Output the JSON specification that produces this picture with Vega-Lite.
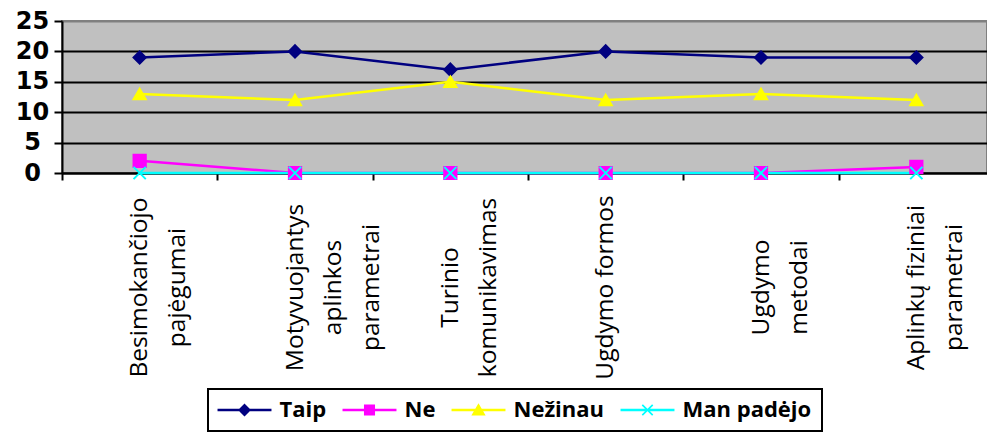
{
  "$schema": "https://vega.github.io/schema/vega-lite/v6.json",
  "width": 925,
  "height": 152,
  "autosize": {"type": "none"},
  "padding": {"left": 62, "top": 21, "right": 0, "bottom": 259},
  "background": "white",
  "data": {
    "values": [
      {"category": "Besimokančiojo\npajėgumai", "series": "Taip", "value": 19},
      {"category": "Motyvuojantys\naplinkos\nparametrai", "series": "Taip", "value": 20},
      {"category": "Turinio\nkomunikavimas", "series": "Taip", "value": 17},
      {"category": "Ugdymo formos", "series": "Taip", "value": 20},
      {"category": "Ugdymo\nmetodai", "series": "Taip", "value": 19},
      {"category": "Aplinkų fiziniai\nparametrai", "series": "Taip", "value": 19},
      {"category": "Besimokančiojo\npajėgumai", "series": "Ne", "value": 2},
      {"category": "Motyvuojantys\naplinkos\nparametrai", "series": "Ne", "value": 0},
      {"category": "Turinio\nkomunikavimas", "series": "Ne", "value": 0},
      {"category": "Ugdymo formos", "series": "Ne", "value": 0},
      {"category": "Ugdymo\nmetodai", "series": "Ne", "value": 0},
      {"category": "Aplinkų fiziniai\nparametrai", "series": "Ne", "value": 1},
      {"category": "Besimokančiojo\npajėgumai", "series": "Nežinau", "value": 13},
      {"category": "Motyvuojantys\naplinkos\nparametrai", "series": "Nežinau", "value": 12},
      {"category": "Turinio\nkomunikavimas", "series": "Nežinau", "value": 15},
      {"category": "Ugdymo formos", "series": "Nežinau", "value": 12},
      {"category": "Ugdymo\nmetodai", "series": "Nežinau", "value": 13},
      {"category": "Aplinkų fiziniai\nparametrai", "series": "Nežinau", "value": 12},
      {"category": "Besimokančiojo\npajėgumai", "series": "Man padėjo", "value": 0},
      {"category": "Motyvuojantys\naplinkos\nparametrai", "series": "Man padėjo", "value": 0},
      {"category": "Turinio\nkomunikavimas", "series": "Man padėjo", "value": 0},
      {"category": "Ugdymo formos", "series": "Man padėjo", "value": 0},
      {"category": "Ugdymo\nmetodai", "series": "Man padėjo", "value": 0},
      {"category": "Aplinkų fiziniai\nparametrai", "series": "Man padėjo", "value": 0}
    ]
  },
  "encoding": {
    "x": {
      "field": "category",
      "type": "nominal",
      "sort": null,
      "scale": {"range": [0, 932], "paddingInner": 0, "paddingOuter": 0},
      "axis": {
        "title": null,
        "grid": false,
        "domainColor": "black",
        "domainWidth": 2,
        "tickColor": "black",
        "tickWidth": 2,
        "tickSize": 7,
        "tickBand": "extent",
        "labelAngle": -90,
        "labelAlign": "center",
        "labelBaseline": "middle",
        "labelPadding": 107,
        "labelFont": "Open Sans",
        "labelFontSize": 24.5,
        "labelColor": "black",
        "labelLineHeight": 38,
        "labelLimit": 0,
        "labelOverlap": false,
        "labelExpr": "split(replace(datum.label, regexp('^', 'gm'), indexof(datum.label, 'metodai') >= 0 ? '\u00a0\u00a0\u00a0\u00a0\u00a0\u00a0\u00a0\u00a0\u00a0\u00a0\u00a0\u00a0\u00a0\u00a0' : (indexof(datum.label, 'Motyv') >= 0 || indexof(datum.label, 'Aplink') >= 0) ? '\u00a0\u00a0' : ''), '\\n')"
      }
    },
    "y": {
      "field": "value",
      "type": "quantitative",
      "scale": {"domain": [0, 25], "nice": false},
      "axis": {
        "title": null,
        "values": [0, 5, 10, 15, 20, 25],
        "grid": true,
        "gridColor": {"condition": {"test": "datum.value === 25", "value": "#808080"}, "value": "black"},
        "gridWidth": 2,
        "domainColor": "black",
        "domainWidth": 2,
        "tickColor": "black",
        "tickWidth": 2,
        "tickSize": 8,
        "labelFont": "DejaVu Sans",
        "labelFontWeight": "bold",
        "labelFontSize": 24,
        "labelAlign": "center",
        "labelBaseline": "middle",
        "labelPadding": 22,
        "labelColor": "black"
      }
    }
  },
  "layer": [
    {
      "mark": {"type": "line", "strokeWidth": 2.5},
      "encoding": {
        "color": {
          "field": "series",
          "type": "nominal",
          "scale": {
            "domain": ["Taip", "Ne", "Nežinau", "Man padėjo"],
            "range": ["#000080", "#FF00FF", "#FFFF00", "#00FFFF"]
          },
          "legend": null
        }
      }
    },
    {
      "mark": {"type": "point", "filled": true, "size": 150, "strokeWidth": 2, "opacity": 1},
      "encoding": {
        "color": {
          "field": "series",
          "type": "nominal",
          "scale": {
            "domain": ["Taip", "Ne", "Nežinau", "Man padėjo"],
            "range": ["#000080", "#FF00FF", "#FFFF00", "#00FFFF"]
          },
          "legend": null
        },
        "shape": {
          "field": "series",
          "type": "nominal",
          "scale": {
            "domain": ["Taip", "Ne", "Nežinau", "Man padėjo"],
            "range": ["diamond", "square", "triangle-up", "M-1,-1L1,1M-1,1L1,-1"]
          },
          "legend": null
        },
        "stroke": {
          "field": "series",
          "type": "nominal",
          "scale": {
            "domain": ["Taip", "Ne", "Nežinau", "Man padėjo"],
            "range": ["#000080", "#FF00FF", "#FFFF00", "#00FFFF"]
          },
          "legend": null
        }
      }
    },
    {
      "transform": [{"filter": "false"}],
      "mark": {"type": "point", "filled": true, "size": 169, "opacity": 1},
      "encoding": {
        "color": {
          "field": "series",
          "type": "nominal",
          "scale": {
            "domain": ["Taip", "Ne", "Nežinau", "Man padėjo"],
            "range": ["#000080", "#FF00FF", "#FFFF00", "#00FFFF"]
          },
          "legend": {
            "title": null,
            "orient": "none",
            "legendX": 146,
            "legendY": 368,
            "direction": "horizontal",
            "padding": 10,
            "fillColor": "white",
            "strokeColor": "black",
            "columnPadding": 15,
            "symbolSize": 169,
            "symbolOffset": 15.5,
            "labelOffset": 24,
            "labelFont": "Open Sans",
            "labelFontWeight": "bold",
            "labelFontSize": 22,
            "labelColor": "black"
          }
        },
        "shape": {
          "field": "series",
          "type": "nominal",
          "scale": {
            "domain": ["Taip", "Ne", "Nežinau", "Man padėjo"],
            "range": [
              "M-4.15,-0.2H4.15V0.2H-4.15ZM0,-1L1,0L0,1L-1,0Z",
              "M-4.15,-0.2H4.15V0.2H-4.15ZM-0.85,-0.85H0.85V0.85H-0.85Z",
              "M-4.15,-0.2H4.15V0.2H-4.15ZM0,-1.05L1.1,0.85H-1.1Z",
              "M-4.15,-0.2H4.15V0.2H-4.15ZM-0.708,-0.892L0.892,0.708L0.708,0.892L-0.892,-0.708ZM-0.892,0.708L0.708,-0.892L0.892,-0.708L-0.708,0.892Z"
            ]
          },
          "legend": {
            "title": null,
            "orient": "none",
            "legendX": 146,
            "legendY": 368,
            "direction": "horizontal",
            "padding": 10,
            "fillColor": "white",
            "strokeColor": "black",
            "columnPadding": 15,
            "symbolSize": 169,
            "symbolOffset": 15.5,
            "labelOffset": 24,
            "labelFont": "Open Sans",
            "labelFontWeight": "bold",
            "labelFontSize": 22,
            "labelColor": "black"
          }
        }
      }
    }
  ],
  "resolve": {"scale": {"color": "independent", "shape": "independent", "stroke": "independent"}},
  "config": {
    "view": {"fill": "#C0C0C0", "stroke": "#808080", "strokeWidth": 2},
    "legend": {"strokeWidth": 2}
  }
}
